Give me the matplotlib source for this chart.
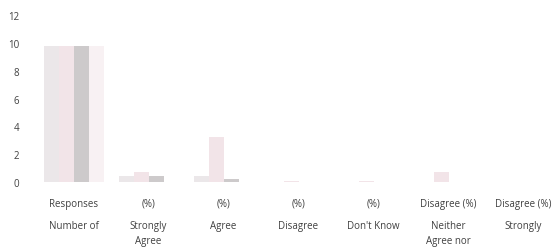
import numpy as np
import matplotlib
matplotlib.use("Agg")
import matplotlib.pyplot as plt

# categories (label rows as they appear in the picture)
row1 = ["Responses", "(%)", "(%)", "(%)", "(%)", "Disagree (%)", "Disagree (%)"]
row2 = ["Number of", "Strongly\nAgree", "Agree", "Disagree", "Don't Know",
        "Neither\nAgree nor", "Strongly"]

# series values
s1 = [9.8, 0.4, 0.4, 0.0, 0.0, 0.0, 0.0]
s2 = [9.8, 0.7, 3.2, 0.1, 0.1, 0.7, 0.0]
s3 = [9.8, 0.4, 0.2, 0.0, 0.0, 0.0, 0.0]
s4 = [9.8, 0.0, 0.0, 0.0, 0.0, 0.0, 0.0]
yticks = [0, 2, 4, 6, 8, 10, 12]

colors = ["#ebe7e9", "#f2e4e8", "#cdcacb", "#f8f1f3"]
txt = "#404040"

plt.rcParams['font.family'] = ['Open Sans', 'DejaVu Sans']

fig = plt.figure(figsize=(5.57, 2.53), dpi=100)
ax = fig.add_axes([36 / 557, 70 / 253, 525 / 557, 167 / 253])

x = np.arange(len(row1))
w = 0.2
for i, s in enumerate([s1, s2, s3, s4]):
    ax.bar(x + (i - 1.5) * w, s, width=w, color=colors[i], linewidth=0)

ax.set_xlim(-0.5, len(row1) - 0.5)
ax.set_ylim(0, 12)
ax.set_yticks(yticks)
ax.set_yticklabels([str(t) for t in yticks], fontsize=7, color=txt)
ax.tick_params(axis='y', length=0, pad=12)
ax.set_xticks([])
for sp in ax.spines.values():
    sp.set_visible(False)

trans = ax.get_xaxis_transform()
for i in range(len(row1)):
    ax.text(x[i], -0.095, row1[i], transform=trans, ha='center', va='top',
            fontsize=7, color=txt)
    ax.text(x[i], -0.225, row2[i], transform=trans, ha='center', va='top',
            fontsize=7, color=txt, linespacing=1.6)

fig.savefig("out.png", dpi=100, facecolor="white")
